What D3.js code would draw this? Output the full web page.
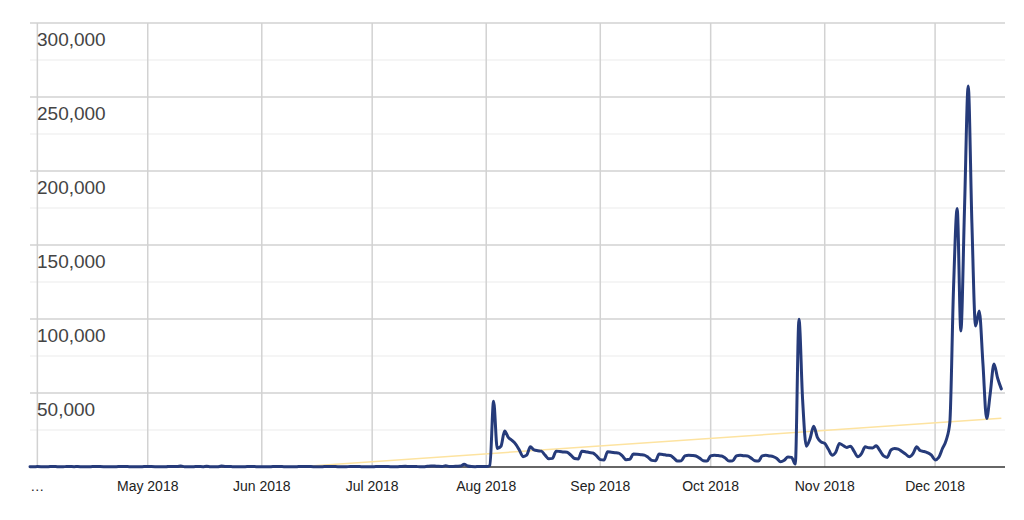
<!DOCTYPE html>
<html>
<head>
<meta charset="utf-8">
<script src="https://cdn.jsdelivr.net/npm/d3@7"></script>
<style>
  html, body { margin: 0; padding: 0; background: #fff; }
  svg { display: block; font-family: Arial, "Liberation Sans", sans-serif; }
</style>
</head>
<body>
<svg id="chart" width="1024" height="520"></svg>
<script>
// ---- Data (daily values, 30 Mar 2018 – 19 Dec 2018) ----
const startDate = "2018-03-30";
const endDate = "2018-12-20";
const valuesMar = [200, 150];
const valuesApr = [300, 250, 150, 200, 400, 300, 100, 150, 350, 300, 250, 300, 200, 100, 150,
                   300, 350, 300, 250, 200, 100, 150, 300, 350, 300, 250, 200, 100, 150, 300];
const valuesMay = [350, 300, 250, 200, 100, 150, 400, 350, 300, 600, 200, 150, 100, 350, 300, 250,
                   500, 200, 100, 150, 600, 400, 300, 250, 200, 100, 150, 300, 350, 300, 200];
const valuesJun = [150, 100, 150, 300, 350, 300, 250, 200, 100, 150, 300, 400, 350, 300, 250,
                   100, 150, 300, 350, 300, 300, 200, 100, 150, 350, 300, 300, 250, 200, 100];
const valuesJul = [200, 300, 400, 350, 300, 250, 150, 200, 400, 450, 400, 350, 300, 200, 250, 500,
                   700, 600, 450, 400, 800, 350, 400, 500, 600, 1800, 700, 300, 250, 400, 300];
const valuesAug = [300, 1000, 44500, 12500, 14000, 24400, 20000, 18000, 15500, 11500, 7000, 8000, 13600,
                   11500, 11000, 10700, 8000, 5500, 5800, 10700, 10500, 10200, 10000, 8000, 5700, 5400,
                   10700, 10300, 9800, 9500, 7500];
const valuesSep = [5000, 4700, 10300, 10000, 9700, 9400, 7500, 4900, 5200, 8700, 8600, 8300, 8000, 6500,
                   4500, 4200, 8700, 8500, 8000, 7800, 6000, 4000, 4200, 7500, 8000, 7800, 7400, 6000,
                   4200, 4000];
const valuesOct = [7500, 8000, 7700, 7400, 6000, 4000, 4200, 7500, 8000, 7600, 7400, 6000, 4200, 4000,
                   7500, 7900, 7500, 7000, 5800, 3500, 4500, 6700, 6500, 2000, 99800, 45000, 14100,
                   19000, 27500, 20000, 17000];
const valuesNov = [15900, 12000, 8000, 10000, 15900, 14500, 13200, 14100, 10500, 6900, 9000, 13600,
                   13000, 12900, 14300, 11000, 7500, 6500, 11500, 12500, 12100, 10500, 8700, 6900,
                   9000, 13600, 11000, 10500, 9600, 8000];
const valuesDec = [4800, 6500, 12500, 18000, 30000, 120000, 174700, 91900, 175000, 257500, 165000,
                   95300, 105400, 70000, 32700, 50000, 69600, 60000, 52800];
// trend line end values (linear)
const trendValues = [-12400, 32900];
const yTicks = [50000, 100000, 150000, 200000, 250000, 300000];
const yMinorTicks = [25000, 75000, 125000, 175000, 225000, 275000];
const xTickLabels = ["…", "May 2018", "Jun 2018", "Jul 2018", "Aug 2018", "Sep 2018", "Oct 2018", "Nov 2018", "Dec 2018"];

(function () {
  const parse = d3.timeParse("%Y-%m-%d");
  const values = [].concat(valuesMar, valuesApr, valuesMay, valuesJun, valuesJul, valuesAug,
                           valuesSep, valuesOct, valuesNov, valuesDec);
  const days = d3.timeDay.range(parse(startDate), parse(endDate));
  const data = days.map((d, i) => ({ date: d, value: values[i] }))
                   .filter(d => d.value !== undefined);

  const svg = d3.select("#chart");
  const pL = 30, pR = 1005, pT = 23, pB = 467;

  const x = d3.scaleTime().domain([parse(startDate), parse(endDate)]).range([pL, pR]);
  const y = d3.scaleLinear().domain([0, 300000]).range([pB, pT]);

  svg.append("rect").attr("width", 1024).attr("height", 520).attr("fill", "#fff");

  svg.append("g").selectAll("line").data(yMinorTicks).join("line")
    .attr("x1", pL).attr("x2", pR)
    .attr("y1", d => y(d)).attr("y2", d => y(d))
    .attr("stroke", "#ebebeb").attr("stroke-width", 1);

  svg.append("g").selectAll("line").data(yTicks).join("line")
    .attr("x1", pL).attr("x2", pR)
    .attr("y1", d => y(d)).attr("y2", d => y(d))
    .attr("stroke", "#d2d2d2").attr("stroke-width", 1.5);

  const monthTicks = d3.timeMonth.range(parse("2018-04-01"), parse("2018-12-02"));
  svg.append("g").selectAll("line").data(monthTicks).join("line")
    .attr("x1", d => x(d)).attr("x2", d => x(d))
    .attr("y1", pT).attr("y2", pB)
    .attr("stroke", "#d2d2d2").attr("stroke-width", 1.5);

  svg.append("clipPath").attr("id", "plotclip").append("rect")
    .attr("x", pL).attr("y", pT - 5).attr("width", pR - pL).attr("height", pB - pT + 5);

  const trendDates = [data[0].date, data[data.length - 1].date];
  svg.append("line")
    .attr("clip-path", "url(#plotclip)")
    .attr("x1", x(trendDates[0])).attr("y1", y(trendValues[0]))
    .attr("x2", x(trendDates[1])).attr("y2", y(trendValues[1]))
    .attr("stroke", "#fde3a0").attr("stroke-width", 1.5);

  svg.append("line")
    .attr("x1", pL).attr("x2", pR)
    .attr("y1", y(0)).attr("y2", y(0))
    .attr("stroke", "#333").attr("stroke-width", 1.5);

  const line = d3.line()
    .x(d => x(d.date)).y(d => y(d.value))
    .curve(d3.curveMonotoneX);
  svg.append("path").datum(data)
    .attr("d", line)
    .attr("fill", "none")
    .attr("stroke", "#263b7a")
    .attr("stroke-width", 3)
    .attr("stroke-linejoin", "round")
    .attr("stroke-linecap", "round");

  const fmt = d3.format(",");
  svg.append("g").selectAll("text").data(yTicks).join("text")
    .attr("x", 37).attr("y", d => y(d) + 23)
    .attr("font-size", 19).attr("fill", "#444")
    .text(d => fmt(d));

  svg.append("g").selectAll("text").data(monthTicks).join("text")
    .attr("x", d => x(d)).attr("y", 491)
    .attr("text-anchor", "middle")
    .attr("font-size", 14).attr("fill", "#222")
    .text((d, i) => xTickLabels[i]);
})();
</script>
</body>
</html>
